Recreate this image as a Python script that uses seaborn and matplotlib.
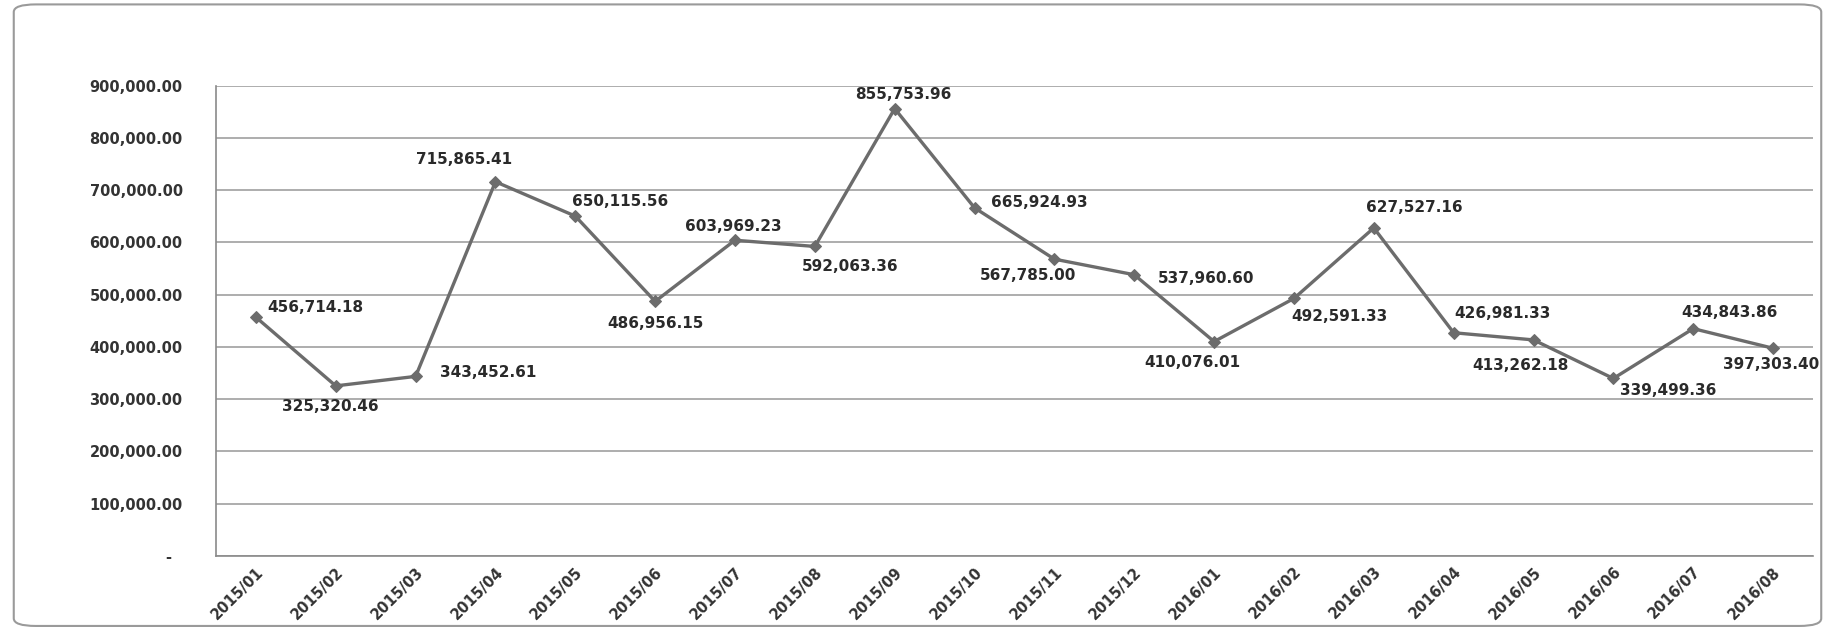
import matplotlib
matplotlib.use("Agg")
import matplotlib.pyplot as plt
from matplotlib.patches import FancyBboxPatch
from matplotlib.ticker import FuncFormatter
import seaborn as sns
import pandas as pd

months = ['2015/01', '2015/02', '2015/03', '2015/04', '2015/05', '2015/06',
          '2015/07', '2015/08', '2015/09', '2015/10', '2015/11', '2015/12',
          '2016/01', '2016/02', '2016/03', '2016/04', '2016/05', '2016/06',
          '2016/07', '2016/08']
values = [456714.18, 325320.46, 343452.61, 715865.41, 650115.56, 486956.15,
          603969.23, 592063.36, 855753.96, 665924.93, 567785.00, 537960.60,
          410076.01, 492591.33, 627527.16, 426981.33, 413262.18, 339499.36,
          434843.86, 397303.40]
y_ticks = [0, 100000, 200000, 300000, 400000, 500000, 600000, 700000, 800000, 900000]

# label placement relative to each point (pixels, right / down)
label_offsets = [(59, -10), (-5, 21), (73, -4), (-31, -22), (45, -15),
                 (0, 22), (-2, -14), (35, 20), (9, -14), (65, -5),
                 (-26, 16), (72, 4), (-22, 21), (45, 18), (41, -20),
                 (49, -19), (-13, 26), (55, 12), (36, -16), (-2, 16)]

df = pd.DataFrame({'month': months, 'value': values})

sns.set_style('white')
plt.rcParams['font.family'] = ['DejaVu Sans']

fig = plt.figure(figsize=(18.35, 6.31), dpi=100)
ax = fig.add_axes([0.1177, 0.119, 0.988 - 0.1177, 0.8645 - 0.119])

line_color = '#6c6c6c'
sns.lineplot(data=df, x='month', y='value', sort=False, ax=ax,
             color=line_color, linewidth=2.4, marker='D', markersize=6.5,
             markeredgecolor=line_color, markerfacecolor=line_color)

for i, v in enumerate(values):
    dx, dy = label_offsets[i]
    ax.annotate(f'{v:,.2f}', (i, v), xytext=(dx, -dy), textcoords='offset pixels',
                ha='center', va='center', fontsize=11, fontweight='bold',
                color='#2a2a2a')

ax.set_xlim(-0.5, len(months) - 0.5)
ax.set_ylim(0, 900000)
ax.set_yticks(y_ticks)
ax.yaxis.set_major_formatter(FuncFormatter(lambda v, p: '-  ' if v == 0 else f'{v:,.2f}'))
ax.yaxis.grid(True, color='#a0a0a0', linewidth=1.2)
ax.xaxis.grid(False)
ax.set_xlabel('')
ax.set_ylabel('')

for side in ['top', 'right']:
    ax.spines[side].set_visible(False)
for side in ['left', 'bottom']:
    ax.spines[side].set_color('#8a8a8a')
    ax.spines[side].set_linewidth(1.2)

ax.tick_params(axis='y', length=0, pad=24, labelsize=10.5, labelcolor='#333333')
ax.tick_params(axis='x', length=0, pad=6, labelsize=10.5, labelcolor='#333333')
for lbl in ax.get_yticklabels():
    lbl.set_fontweight('bold')
for lbl in ax.get_xticklabels():
    lbl.set_rotation(45)
    lbl.set_ha('right')
    lbl.set_rotation_mode('anchor')
    lbl.set_fontweight('bold')

border = FancyBboxPatch((0.0075, 0.008), 0.985, 0.985, transform=fig.transFigure,
                        boxstyle='round,pad=0,rounding_size=0.012',
                        facecolor='none', edgecolor='#9a9a9a', linewidth=1.5)
fig.patches.append(border)

fig.savefig('out.png', dpi=100)
